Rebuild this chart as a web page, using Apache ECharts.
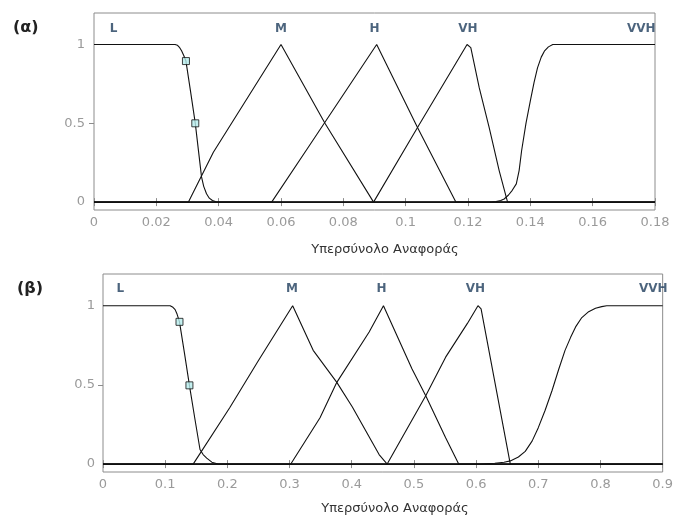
<!DOCTYPE html>
<html>
<head>
<meta charset="utf-8">
<script src="https://cdn.jsdelivr.net/npm/echarts@6/dist/echarts.min.js"></script>
<style>html,body{margin:0;padding:0;background:#fff;}#c{width:676px;height:518px;}</style>
</head>
<body>
<div id="c"></div>
<script>
// ---- Data: panel (α) ----
const L_a   = [[0,1],[0.026,1],[0.0268,0.995],[0.0275,0.98],[0.0281,0.96],[0.0288,0.93],[0.0295,0.895],[0.031,0.7],[0.0325,0.5],[0.0335,0.33],[0.0345,0.16],[0.0352,0.1],[0.0361,0.053],[0.037,0.025],[0.038,0.01],[0.0394,0],[0.18,0]];
const M_a   = [[0,0],[0.0303,0],[0.0383,0.316],[0.06,1],[0.0741,0.5],[0.0897,0],[0.18,0]];
const H_a   = [[0,0],[0.057,0],[0.0695,0.37],[0.0907,1],[0.1038,0.473],[0.1161,0],[0.18,0]];
const VH_a  = [[0,0],[0.0897,0],[0.1038,0.473],[0.1197,1],[0.1209,0.98],[0.1236,0.726],[0.1268,0.473],[0.13,0.2],[0.1327,0],[0.18,0]];
const VVH_a = [[0,0],[0.1274,0],[0.129,0.003],[0.1305,0.01],[0.1316,0.02],[0.133,0.045],[0.1342,0.075],[0.1355,0.116],[0.1364,0.2],[0.1372,0.326],[0.1386,0.5],[0.14,0.642],[0.1412,0.76],[0.1423,0.852],[0.1435,0.92],[0.1445,0.958],[0.1458,0.985],[0.1472,1],[0.18,1]];
const marks_a = [[0.0295,0.895],[0.0325,0.5]];
const labelX_a = [0.0063,0.06,0.09,0.12,0.1756];

// ---- Data: panel (β) ----
const L_b   = [[0,1],[0.108,1],[0.1125,0.99],[0.116,0.975],[0.1187,0.951],[0.123,0.898],[0.131,0.7],[0.139,0.497],[0.148,0.28],[0.156,0.092],[0.161,0.06],[0.1668,0.038],[0.175,0.012],[0.185,0],[0.9,0]];
const M_b   = [[0,0],[0.145,0],[0.204,0.357],[0.25,0.654],[0.305,1],[0.338,0.718],[0.376,0.516],[0.401,0.36],[0.444,0.06],[0.457,0],[0.9,0]];
const H_b   = [[0,0],[0.302,0],[0.349,0.293],[0.376,0.516],[0.428,0.834],[0.451,1],[0.497,0.6],[0.519,0.431],[0.551,0.166],[0.572,0],[0.9,0]];
const VH_b  = [[0,0],[0.457,0],[0.519,0.431],[0.551,0.675],[0.586,0.888],[0.603,1],[0.608,0.98],[0.655,0],[0.9,0]];
const VVH_b = [[0,0],[0.607,0],[0.63,0.005],[0.645,0.012],[0.655,0.02],[0.668,0.045],[0.679,0.08],[0.69,0.145],[0.7,0.23],[0.711,0.34],[0.722,0.463],[0.733,0.6],[0.743,0.718],[0.752,0.8],[0.76,0.866],[0.77,0.925],[0.781,0.962],[0.792,0.984],[0.802,0.994],[0.81,1],[0.9,1]];
const marks_b = [[0.123,0.898],[0.139,0.497]];
const labelX_b = [0.028,0.304,0.448,0.599,0.885];

const setNames = ['L','M','H','VH','VVH'];
const labelY_a = 1.098, labelY_b = 1.104;
const yTicks = [0, 0.5, 1];
const xTitle = 'Υπερσύνολο Αναφοράς';
const panelTitles = ['(α)', '(β)'];

const FONT = 'DejaVu Sans';
const chart = echarts.init(document.getElementById('c'));

function xAxesFor(gi, max, interval) {
  return [
    { type:'value', gridIndex:gi, position:'bottom', min:0, max:max, interval:interval,
      axisLine:{show:false}, splitLine:{show:false},
      axisTick:{show:true, inside:true, length:4, lineStyle:{color:'#8c8c8c'}},
      axisLabel:{color:'#9a9a9a', fontFamily:FONT, fontSize:13, margin:6} },
    { type:'value', gridIndex:gi, position:'top', min:0, max:max, interval:interval,
      axisLine:{show:false}, splitLine:{show:false}, axisLabel:{show:false},
      axisTick:{show:true, inside:true, length:4, lineStyle:{color:'#8c8c8c'}} }
  ];
}
function yAxesFor(gi, margin) {
  return [
    { type:'value', gridIndex:gi, position:'left', min:-0.05, max:1.2,
      axisLine:{show:false}, splitLine:{show:false},
      axisTick:{show:false},
      axisLabel:{color:'#9a9a9a', fontFamily:FONT, fontSize:13, margin:margin, customValues:yTicks} },
    { type:'value', gridIndex:gi, position:'right', min:-0.05, max:1.2,
      axisLine:{show:false}, splitLine:{show:false}, axisLabel:{show:false},
      axisTick:{show:true, inside:true, length:5, customValues:[0.5], lineStyle:{color:'#8c8c8c'}} }
  ];
}
function lineSeries(data, xi, yi) {
  return { type:'line', data:data, xAxisIndex:xi, yAxisIndex:yi, showSymbol:false, symbol:'none',
           lineStyle:{color:'#111', width:1.1}, silent:true, animation:false };
}
function markSeries(data, xi, yi) {
  return { type:'scatter', data:data, xAxisIndex:xi, yAxisIndex:yi, symbol:'rect', symbolSize:7,
           itemStyle:{color:'#b7ecec', borderColor:'#111', borderWidth:1}, animation:false, z:5 };
}
function labelSeries(xs, y, xi, yi) {
  return { type:'scatter', xAxisIndex:xi, yAxisIndex:yi, symbolSize:0, animation:false,
           data: xs.map((x,i)=>({value:[x,y], name:setNames[i]})),
           label:{show:true, position:'inside', formatter:p=>p.name, color:'#1f3d5c',
                  fontFamily:FONT, fontWeight:'bold', fontSize:12} };
}

const option = {
  backgroundColor:'#fff',
  animation:false,
  grid:[
    {left:94, top:13, width:561, height:197, show:true, borderColor:'#8c8c8c', borderWidth:1, backgroundColor:'#fff'},
    {left:103, top:274, width:561, height:198, show:true, borderColor:'#8c8c8c', borderWidth:1, backgroundColor:'#fff'}
  ],
  xAxis:[...xAxesFor(0,0.18,0.02), ...xAxesFor(1,0.9,0.1)],
  yAxis:[...yAxesFor(0,9), ...yAxesFor(1,8)],
  series:[
    lineSeries(L_a,0,0), lineSeries(M_a,0,0), lineSeries(H_a,0,0), lineSeries(VH_a,0,0), lineSeries(VVH_a,0,0),
    markSeries(marks_a,0,0), labelSeries(labelX_a,labelY_a,0,0),
    lineSeries(L_b,2,2), lineSeries(M_b,2,2), lineSeries(H_b,2,2), lineSeries(VH_b,2,2), lineSeries(VVH_b,2,2),
    markSeries(marks_b,2,2), labelSeries(labelX_b,labelY_b,2,2)
  ],
  graphic:[
    {type:'text', left:13, top:20, style:{text:panelTitles[0], font:'bold 16px "DejaVu Sans"', fill:'#222'}},
    {type:'text', left:17, top:281, style:{text:panelTitles[1], font:'bold 16px "DejaVu Sans"', fill:'#222'}},
    {type:'text', x:385, y:250, style:{text:xTitle, font:'13px "DejaVu Sans"', fill:'#333', align:'center', verticalAlign:'middle'}},
    {type:'text', x:395, y:509, style:{text:xTitle, font:'13px "DejaVu Sans"', fill:'#333', align:'center', verticalAlign:'middle'}}
  ]
};
chart.setOption(option);
</script>
</body>
</html>
